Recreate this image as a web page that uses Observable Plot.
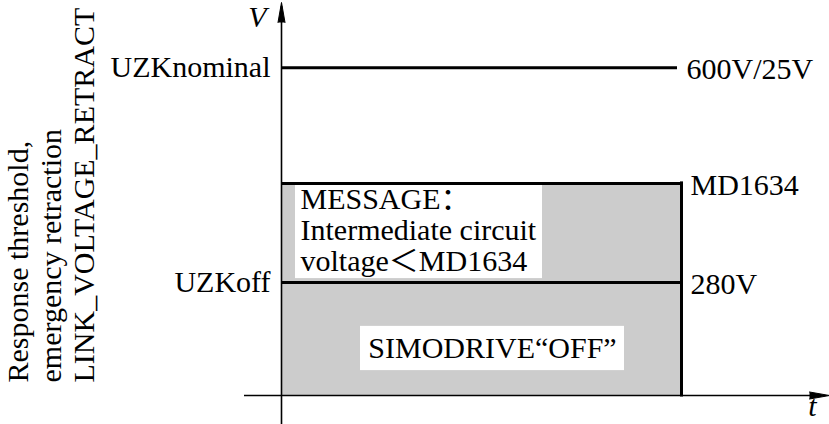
<!DOCTYPE html>
<html><head><meta charset="utf-8">
<script src="https://cdn.jsdelivr.net/npm/d3@7"></script>
<script src="https://cdn.jsdelivr.net/npm/@observablehq/plot@0.6"></script>
<style>html,body{margin:0;padding:0;background:#fff;} svg{display:block} svg text{font-family:"Liberation Serif","Times New Roman","Noto Sans CJK SC",serif !important;}</style>
</head><body><div id="chart"></div>
<script>
// Threshold levels (schematic, relative units 0..100 of the V axis)
const levelNames = ["UZKoff", "MD1634", "UZKnominal"];
const levelValues = [28.6, 53.7, 83.0];
const leftLabels = ["UZKoff", "", "UZKnominal"];
const rightLabels = ["280V", "MD1634", "600V/25V"];
const levelEnds = [100, 100, 99];
const tStart = 0, tEnd = 100;

const axisTitle = "Response threshold,\nemergency retraction\nLINK_VOLTAGE_RETRACT";
const messageText = "MESSAGE：\nIntermediate circuit\nvoltage＜MD1634";
const offText = "SIMODRIVE“OFF”";

// layout (annotation boxes and axis extents, in scale units)
const messageBox = {x1: 3.5, x2: 65.25, y1: 29.6, y2: 53.2};
const offBox = {x1: 19.75, x2: 85.75, y1: 6.3, y2: 17.5};
const axisStartX = -9.25, axisEndX = 137;
const axisStartY = -7.5, axisEndY = 99.5;

const serif = "Liberation Serif, Times New Roman, Noto Sans CJK SC, serif";

const levels = levelNames.map((name, i) => ({
  name, value: levelValues[i], left: leftLabels[i], right: rightLabels[i], end: levelEnds[i]
}));

const chart = Plot.plot({
  width: 829, height: 424, margin: 0,
  x: {domain: [0, 100], range: [281, 681], axis: null},
  y: {domain: [0, 100], range: [395, 0], axis: null},
  style: {fontFamily: serif, background: "white", overflow: "visible", color: "black"},
  marks: [
    Plot.rect([{}], {x1: tStart, x2: tEnd, y1: 0, y2: levelValues[1], fill: "#cccccc"}),
    Plot.rect([messageBox, offBox], {x1: "x1", x2: "x2", y1: "y1", y2: "y2", fill: "white"}),
    Plot.ruleY(levels, {y: "value", x1: tStart, x2: "end", stroke: "black", strokeWidth: 3}),
    Plot.ruleX([tEnd], {y1: 0, y2: levelValues[1], stroke: "black", strokeWidth: 3, strokeLinecap: "square"}),
    Plot.ruleY([0], {x1: axisStartX, x2: axisEndX - 4, stroke: "black", strokeWidth: 1.6}),
    Plot.ruleX([0], {y1: axisStartY, y2: axisEndY - 1, stroke: "black", strokeWidth: 1.6}),
    Plot.vector([{x: 0, y: axisEndY}], {x: "x", y: "y", shape: "spike", anchor: "end", length: 20, r: 3.5, rotate: 0, fill: "black", stroke: "black", strokeWidth: 1}),
    Plot.vector([{x: axisEndX, y: 0}], {x: "x", y: "y", shape: "spike", anchor: "end", length: 20, r: 3.5, rotate: 90, fill: "black", stroke: "black", strokeWidth: 1}),
    Plot.text(levels.filter(d => d.left), {x: tStart, y: "value", text: "left", textAnchor: "end", dx: -11, fontSize: 30, fontFamily: serif}),
    Plot.text(levels, {x: "end", y: "value", text: "right", textAnchor: "start", dx: 9, dy: 2, fontSize: 30, fontFamily: serif}),
    Plot.text(["V"], {x: 0, y: axisEndY, dx: -24, dy: 15, fontSize: 30, fontStyle: "italic", fontFamily: serif}),
    Plot.text(["t"], {x: axisEndX, y: 0, dx: -17, dy: 11, fontSize: 30, fontStyle: "italic", fontFamily: serif}),
    Plot.text([messageText], {x: messageBox.x1, y: messageBox.y2, dx: 5, dy: 2, textAnchor: "start", lineAnchor: "top", lineHeight: 1.03, fontSize: 30, fontFamily: serif}),
    Plot.text([offText], {x: (offBox.x1 + offBox.x2) / 2, y: (offBox.y1 + offBox.y2) / 2, fontSize: 30, fontFamily: serif}),
    Plot.text([axisTitle], {frameAnchor: "bottom-left", rotate: -90, textAnchor: "start", lineAnchor: "top", lineHeight: 1.1, dx: 4, dy: -42, fontSize: 30, fontFamily: serif})
  ]
});
document.getElementById("chart").appendChild(chart);
</script>
</body></html>
